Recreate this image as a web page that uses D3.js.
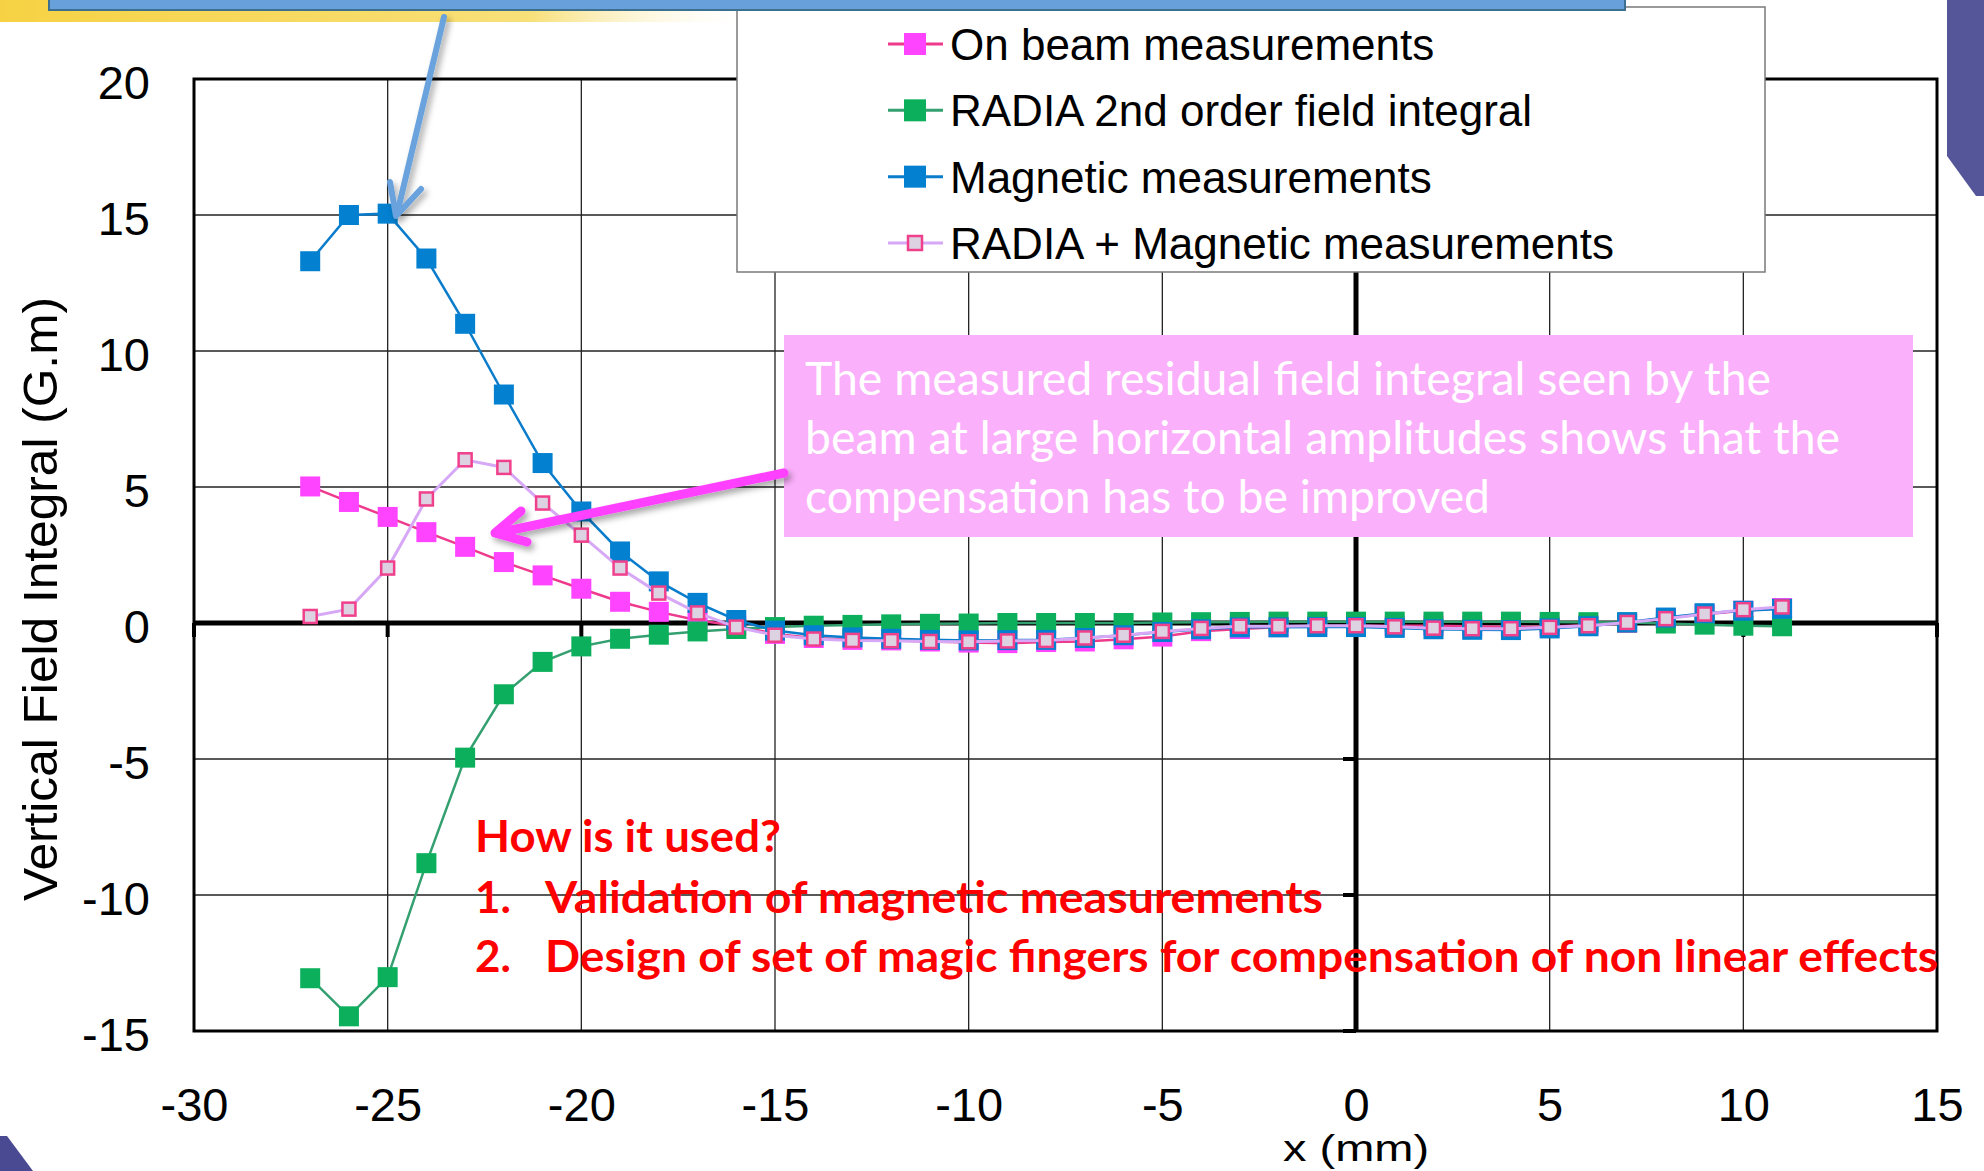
<!DOCTYPE html>
<html>
<head>
<meta charset="utf-8">
<script src="https://cdn.jsdelivr.net/npm/d3@7"></script>
<style>
  html, body { margin: 0; padding: 0; background: #fff; overflow: hidden; }
  svg { display: block; }
</style>
</head>
<body>
<svg id="chart"></svg>
<script>
const width = 1984
const height = 1171

// x positions (mm)
const xs = [-27, -26, -25, -24, -23, -22, -21, -20, -19, -18, -17, -16, -15, -14, -13, -12, -11, -10, -9, -8,
    -7, -6, -5, -4, -3, -2, -1, 0, 1, 2, 3, 4, 5, 6, 7, 8, 9, 10, 11]

// vertical field integral (G.m)
const onBeam = [5.02, 4.45, 3.9, 3.34, 2.8, 2.24, 1.75, 1.26, 0.78, 0.41, 0.1, -0.1, -0.4, -0.55, -0.62, -0.64,
    -0.68, -0.72, -0.74, -0.7, -0.68, -0.6, -0.5, -0.3, -0.22, -0.15, -0.12, -0.1, -0.1, -0.1, -0.12, -0.15,
    -0.13, -0.08, 0.0, 0.18, 0.32, 0.45, 0.55]
const radia2nd = [-13.06, -14.46, -13.02, -8.83, -4.95, -2.62, -1.43, -0.86, -0.58, -0.43, -0.31, -0.22, -0.15,
    -0.1, -0.07, -0.05, -0.03, -0.02, 0, 0, 0, 0, 0.02, 0.03, 0.04, 0.05, 0.05, 0.05, 0.05, 0.05, 0.05, 0.05,
    0.04, 0.03, 0.02, -0.02, -0.06, -0.1, -0.12]
const magnetic = [13.3, 15.0, 15.05, 13.4, 11.0, 8.4, 5.88, 4.1, 2.63, 1.53, 0.74, 0.11, -0.28, -0.45, -0.53,
    -0.58, -0.62, -0.64, -0.63, -0.62, -0.55, -0.45, -0.33, -0.23, -0.16, -0.16, -0.15, -0.15, -0.18, -0.23,
    -0.25, -0.26, -0.2, -0.12, 0.03, 0.2, 0.36, 0.45, 0.52]
const radiaPlusMag = [0.24, 0.51, 2.02, 4.56, 6.0, 5.72, 4.41, 3.23, 2.02, 1.1, 0.37, -0.15, -0.45, -0.59, -0.64,
    -0.65, -0.68, -0.69, -0.66, -0.64, -0.55, -0.45, -0.31, -0.2, -0.12, -0.12, -0.1, -0.1, -0.14, -0.19,
    -0.21, -0.21, -0.16, -0.1, 0.02, 0.16, 0.33, 0.49, 0.59]

const seriesNames = ['On beam measurements', 'RADIA 2nd order field integral', 'Magnetic measurements',
    'RADIA + Magnetic measurements']

const xTicks = [-30, -25, -20, -15, -10, -5, 0, 5, 10, 15]
const yTicks = [-15, -10, -5, 0, 5, 10, 15, 20]

const noteLines = ['The measured residual field integral seen by the',
    'beam at large horizontal amplitudes shows that the',
    'compensation has to be improved']
const usedTitle = 'How is it used?'
const usedItems = ['Validation of magnetic measurements',
    'Design of set of magic fingers for compensation of non linear effects']

const series = [
    { name: seriesNames[0], values: onBeam, line: '#ee3a8c', fill: '#ff44ff', stroke: 'none', size: 20, lw: 2.5 },
    { name: seriesNames[1], values: radia2nd, line: '#34a070', fill: '#0cb05c', stroke: 'none', size: 20, lw: 2.5 },
    { name: seriesNames[2], values: magnetic, line: '#0a7ccc', fill: '#0380d0', stroke: 'none', size: 20, lw: 2.5 },
    { name: seriesNames[3], values: radiaPlusMag, line: '#d6a8f6', fill: '#dcd2e2', stroke: '#f0408c', size: 13, lw: 3 }
]

const plot = { left: 194, right: 1937, top: 79, bottom: 1031 }
const x = d3.scaleLinear().domain([-30, 15]).range([plot.left, plot.right])
const y = d3.scaleLinear().domain([-15, 20]).range([plot.bottom, plot.top])

const svg = d3.select('#chart')
    .attr('width', width)
    .attr('height', height)
    .attr('viewBox', `0 0 ${width} ${height}`)

const defs = svg.append('defs')
const shadow = defs.append('filter').attr('id', 'shadow')
    .attr('x', '-20%').attr('y', '-50%').attr('width', '140%').attr('height', '200%')
shadow.append('feDropShadow')
    .attr('dx', 3).attr('dy', 4).attr('stdDeviation', 3)
    .attr('flood-color', '#000').attr('flood-opacity', 0.35)
const band = defs.append('linearGradient').attr('id', 'band')
    .attr('x1', 0).attr('y1', 0).attr('x2', 1).attr('y2', 0)
band.append('stop').attr('offset', '0%').attr('stop-color', '#f6d243')
band.append('stop').attr('offset', '70%').attr('stop-color', '#f8e07a')
band.append('stop').attr('offset', '100%').attr('stop-color', '#fff').attr('stop-opacity', 0)

// slide background bits
svg.append('rect').attr('x', 0).attr('y', 0).attr('width', 760).attr('height', 22).attr('fill', 'url(#band)')
svg.append('polygon')
    .attr('points', '1947,0 1984,0 1984,196 1976,196 1947,156')
    .attr('fill', '#55559a')
svg.append('polygon')
    .attr('points', '0,1136 7,1136 33,1171 0,1171')
    .attr('fill', '#4a4a92')

// grid
const grid = svg.append('g')
grid.selectAll('line.v')
    .data(xTicks.filter(d => d > -30 && d < 15 && d !== 0))
    .enter()
    .append('line')
    .attr('x1', d => x(d)).attr('x2', d => x(d))
    .attr('y1', plot.top).attr('y2', plot.bottom)
    .attr('stroke', '#222').attr('stroke-width', 1.3)
grid.selectAll('line.h')
    .data(yTicks.filter(d => d > -15 && d < 20 && d !== 0))
    .enter()
    .append('line')
    .attr('y1', d => y(d)).attr('y2', d => y(d))
    .attr('x1', plot.left).attr('x2', plot.right)
    .attr('stroke', '#222').attr('stroke-width', 1.3)

svg.append('rect')
    .attr('x', plot.left).attr('y', plot.top)
    .attr('width', plot.right - plot.left).attr('height', plot.bottom - plot.top)
    .attr('fill', 'none').attr('stroke', '#000').attr('stroke-width', 3)

// zero axes with tick marks
svg.append('line')
    .attr('x1', plot.left).attr('x2', plot.right)
    .attr('y1', y(0)).attr('y2', y(0))
    .attr('stroke', '#000').attr('stroke-width', 5)
svg.append('line')
    .attr('x1', x(0)).attr('x2', x(0))
    .attr('y1', plot.top).attr('y2', plot.bottom)
    .attr('stroke', '#000').attr('stroke-width', 5)
svg.append('g').selectAll('line')
    .data(xTicks)
    .enter()
    .append('line')
    .attr('x1', d => x(d)).attr('x2', d => x(d))
    .attr('y1', y(0)).attr('y2', y(0) + 14)
    .attr('stroke', '#000').attr('stroke-width', 4)
svg.append('g').selectAll('line')
    .data(yTicks)
    .enter()
    .append('line')
    .attr('x1', x(0) - 13).attr('x2', x(0))
    .attr('y1', d => y(d)).attr('y2', d => y(d))
    .attr('stroke', '#000').attr('stroke-width', 4)

// tick labels via d3 axes
const xAxis = svg.append('g')
    .attr('transform', `translate(0,${plot.bottom})`)
    .call(d3.axisBottom(x).tickValues(xTicks).tickSize(0).tickPadding(57).tickFormat(d3.format('d')))
const yAxis = svg.append('g')
    .attr('transform', `translate(${plot.left},0)`)
    .call(d3.axisLeft(y).tickValues(yTicks).tickSize(0).tickPadding(44).tickFormat(d3.format('d')))
for (const ax of [xAxis, yAxis]) {
    ax.select('.domain').remove()
    ax.selectAll('text')
        .attr('font-family', '"Liberation Sans", Arial, sans-serif')
        .attr('font-size', 47)
        .attr('fill', '#000')
        .text(d => d < 0 ? '-' + Math.abs(d) : d)
}
yAxis.selectAll('text').attr('dy', '0.42em')

// axis titles (x title squeezed vertically, as in the picture)
svg.append('text')
    .attr('transform', `translate(${x(0)},1161) scale(1,0.78)`)
    .attr('text-anchor', 'middle')
    .attr('font-family', '"Liberation Sans", Arial, sans-serif')
    .attr('font-size', 47)
    .text('x (mm)')
svg.append('text')
    .attr('transform', 'translate(57,599) rotate(-90)')
    .attr('text-anchor', 'middle')
    .attr('font-family', '"Liberation Sans", Arial, sans-serif')
    .attr('font-size', 48)
    .attr('textLength', 604)
    .attr('lengthAdjust', 'spacingAndGlyphs')
    .text('Vertical Field Integral (G.m)')

// series
const line = d3.line()
    .x((d, i) => x(xs[i]))
    .y(d => y(d))

const gSeries = svg.append('g')
series.forEach(s => {
    gSeries.append('path')
        .attr('d', line(s.values))
        .attr('fill', 'none')
        .attr('stroke', s.line)
        .attr('stroke-width', s.lw)
    gSeries.append('g').selectAll('rect')
        .data(s.values)
        .enter()
        .append('rect')
        .attr('x', (d, i) => x(xs[i]) - s.size / 2)
        .attr('y', d => y(d) - s.size / 2)
        .attr('width', s.size)
        .attr('height', s.size)
        .attr('fill', s.fill)
        .attr('stroke', s.stroke)
        .attr('stroke-width', s.stroke === 'none' ? 0 : 2.5)
})

// legend
const legend = svg.append('g')
legend.append('rect')
    .attr('x', 737).attr('y', 7).attr('width', 1028).attr('height', 265)
    .attr('fill', '#fff').attr('stroke', '#7a7a7a').attr('stroke-width', 1.5)
const legendRow = d3.scalePoint().domain(seriesNames).range([44, 243])
const items = legend.selectAll('g.item')
    .data(series)
    .enter()
    .append('g')
    .attr('transform', d => `translate(0,${legendRow(d.name)})`)
items.append('line')
    .attr('x1', 888).attr('x2', 943)
    .attr('stroke', d => d.line).attr('stroke-width', 3)
items.append('rect')
    .attr('x', d => 915 - (d.size === 20 ? 11 : 7))
    .attr('y', d => -(d.size === 20 ? 11 : 7))
    .attr('width', d => d.size === 20 ? 22 : 14)
    .attr('height', d => d.size === 20 ? 22 : 14)
    .attr('fill', d => d.fill)
    .attr('stroke', d => d.stroke)
    .attr('stroke-width', d => d.stroke === 'none' ? 0 : 2.5)
items.append('text')
    .attr('x', 950).attr('y', 16)
    .attr('font-family', '"Liberation Sans", Arial, sans-serif')
    .attr('font-size', 44)
    .text(d => d.name)

// pink note box
svg.append('rect')
    .attr('x', 784).attr('y', 335).attr('width', 1129).attr('height', 202)
    .attr('fill', '#fbb0fb')
const noteWidths = [966, 1035, 685]
svg.append('g').selectAll('text')
    .data(noteLines)
    .enter()
    .append('text')
    .attr('x', 805)
    .attr('y', (d, i) => 395 + i * 59)
    .attr('font-family', 'Lato, "Open Sans", sans-serif')
    .attr('font-size', 46)
    .attr('fill', '#fff')
    .attr('textLength', (d, i) => noteWidths[i])
    .attr('lengthAdjust', 'spacingAndGlyphs')
    .text(d => d)

// magenta arrow
const mArrow = svg.append('g').attr('filter', 'url(#shadow)')
    .attr('stroke', '#ff40ff').attr('stroke-width', 9).attr('stroke-linecap', 'round').attr('fill', 'none')
mArrow.append('line').attr('x1', 784).attr('y1', 473).attr('x2', 497).attr('y2', 533)
mArrow.append('polyline').attr('points', '521,511 495,533 527,542').attr('stroke-linejoin', 'round')

// blue arrow from the title box
const bArrow = svg.append('g').attr('filter', 'url(#shadow)')
    .attr('stroke', '#69a2dc').attr('stroke-width', 6).attr('stroke-linecap', 'round').attr('fill', 'none')
bArrow.append('line').attr('x1', 444).attr('y1', 17).attr('x2', 397).attr('y2', 214)
bArrow.append('polyline').attr('points', '390,182 396,216 421,189').attr('stroke-linejoin', 'round')

// title box edge at the top
svg.append('rect')
    .attr('x', 49).attr('y', -6).attr('width', 1576).attr('height', 16)
    .attr('fill', '#68a0dc').attr('stroke', '#3d6f8e').attr('stroke-width', 2)

// red notes
const red = svg.append('g')
    .attr('font-family', 'Lato, "Open Sans", sans-serif')
    .attr('font-weight', 'bold')
    .attr('font-size', 44)
    .attr('fill', '#ff0000')
red.append('text').attr('x', 475).attr('y', 852)
    .attr('textLength', 306).attr('lengthAdjust', 'spacingAndGlyphs')
    .text(usedTitle)
const usedWidths = [778, 1393]
usedItems.forEach((t, i) => {
    red.append('text').attr('x', 475).attr('y', 913 + i * 59).text((i + 1) + '.')
    red.append('text').attr('x', 545).attr('y', 913 + i * 59)
        .attr('textLength', usedWidths[i]).attr('lengthAdjust', 'spacingAndGlyphs')
        .text(t)
})
</script>
</body>
</html>
